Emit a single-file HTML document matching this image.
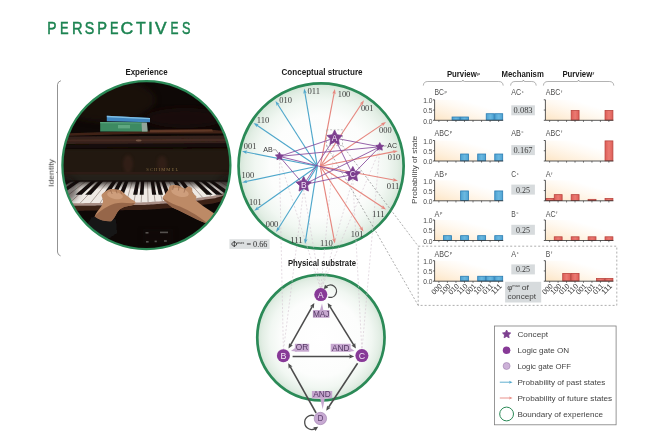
<!DOCTYPE html>
<html><head><meta charset="utf-8"><title>Perspectives</title>
<style>
html,body{margin:0;padding:0;background:#fff;}
body{width:665px;height:433px;overflow:hidden;font-family:"Liberation Sans",sans-serif;}
svg{display:block}
</style></head><body>
<svg width="665" height="433" viewBox="0 0 665 433">
<defs>
<radialGradient id="gcirc" cx="50%" cy="50%" r="50%">
 <stop offset="0" stop-color="#ffffff"/>
 <stop offset="0.62" stop-color="#fcfdfc"/>
 <stop offset="0.8" stop-color="#f1f7f2"/>
 <stop offset="0.92" stop-color="#e3eee5"/>
 <stop offset="1" stop-color="#d2e5d6"/>
</radialGradient>
<linearGradient id="gbar" x1="0" y1="1" x2="1" y2="0">
 <stop offset="0" stop-color="#fde5c4"/>
 <stop offset="0.22" stop-color="#feefdb"/>
 <stop offset="0.48" stop-color="#fff9f1"/>
 <stop offset="0.7" stop-color="#ffffff"/>
</linearGradient>
<linearGradient id="gblue" x1="0" y1="0" x2="1" y2="0">
 <stop offset="0" stop-color="#4da3d3"/><stop offset="0.5" stop-color="#6bb8e0"/><stop offset="1" stop-color="#4da3d3"/>
</linearGradient>
<linearGradient id="gred" x1="0" y1="0" x2="1" y2="0">
 <stop offset="0" stop-color="#df5d57"/><stop offset="0.5" stop-color="#ea7a72"/><stop offset="1" stop-color="#df5d57"/>
</linearGradient>
<clipPath id="pclip"><circle cx="146.4" cy="165.2" r="84"/></clipPath>
<filter id="b1" x="-20%" y="-20%" width="140%" height="140%"><feGaussianBlur stdDeviation="0.7"/></filter>
<filter id="b2" x="-20%" y="-20%" width="140%" height="140%"><feGaussianBlur stdDeviation="1.6"/></filter>
<filter id="b3" x="-20%" y="-20%" width="140%" height="140%"><feGaussianBlur stdDeviation="3"/></filter>
</defs>
<path d="M60.9,80.7 Q57.7,81.6 57.5,84.6 L57.5,252 Q57.7,255 60.6,255.9 M57.5,172.4 L56.0,172.4" fill="none" stroke="#777" stroke-width="0.8"/>
<g clip-path="url(#pclip)">
<rect x="60" y="80" width="175" height="172" fill="#120a07"/>
<rect x="60" y="78" width="176" height="176" fill="#0e0806"/>
<ellipse cx="105" cy="100" rx="50" ry="22" fill="#23150d" opacity="0.6" filter="url(#b3)"/>
<ellipse cx="185" cy="118" rx="40" ry="10" fill="#1c100a" opacity="0.8" filter="url(#b3)"/>
<g filter="url(#b1)">
<polygon points="62,133.6 150,130.6 212,129.8 224,131 224,133.4 150,133.4 62,136" fill="#3f2418"/>
<polygon points="150,129.8 212,129.2 213,131.6 150,132.2" fill="#6a3f2a" opacity="0.8"/>
<polygon points="62,136.6 230,135.4 230,143.4 62,144" fill="#35201a"/>
<polygon points="62,139.6 230,138.8 230,141 62,141.6" fill="#452a20"/>
<ellipse cx="138.7" cy="140.4" rx="3" ry="1" fill="#8a6a55" opacity="0.7"/>
<polygon points="62,144.2 230,143.6 230,147.6 62,148" fill="#150b08"/>
<polygon points="60,149 232,148.4 232,177 60,177" fill="#1f120c"/>
</g>
<ellipse cx="128" cy="164" rx="5" ry="9" fill="#3f271b" opacity="0.8" filter="url(#b2)"/>
<ellipse cx="162" cy="164" rx="5" ry="8" fill="#3f271b" opacity="0.75" filter="url(#b2)"/>
<rect x="62" y="150" width="170" height="24" fill="#2b1a12" opacity="0.45" filter="url(#b2)"/>
<rect x="62" y="172" width="170" height="4" fill="#2e1a12" filter="url(#b1)"/>
<g filter="url(#b1)">
<polygon points="100.2,122 146.8,122.6 147.4,131.6 100.2,131.4" fill="#3c8a62"/>
<polygon points="141.5,122.6 147,122.8 147.6,131.6 142,131.6" fill="#93a59a"/>
<polygon points="100.2,122 141.5,122.4 141.5,123.6 100.2,123.2" fill="#5aa57e"/>
<polygon points="106.8,115.8 150,118 150,122.2 106.8,121.2" fill="#3f86bf"/>
<polygon points="106.8,115.8 150,118 150,119.2 106.8,117.2" fill="#7fbde2"/>
</g>
<rect x="118" y="125" width="12" height="3.4" fill="#7fbf9c" opacity="0.55" filter="url(#b1)"/>
<text x="162.8" y="171" font-size="4.6" fill="#8d7447" text-anchor="middle" font-family='"Liberation Serif", serif' letter-spacing="1.1" opacity="0.9" filter="url(#b1)">SCHIMMEL</text>
<g filter="url(#b1)">
<polygon points="55.0,203.40 57.0,203.64 59.0,203.89 61.0,204.13 63.0,204.38 65.0,204.62 67.0,204.87 69.0,205.11 71.0,205.36 73.0,205.60 75.0,205.59 77.0,205.57 79.0,205.56 81.0,205.54 83.0,205.53 85.0,205.51 87.0,205.50 89.0,205.48 91.0,205.47 93.0,205.45 95.0,205.44 97.0,205.42 99.0,205.41 101.0,205.38 103.0,205.35 105.0,205.32 107.0,205.29 109.0,205.26 111.0,205.23 113.0,205.20 115.0,205.17 117.0,205.14 119.0,205.11 121.0,205.08 123.0,205.05 125.0,205.02 127.0,204.99 129.0,204.96 131.0,204.93 133.0,204.90 135.0,204.87 137.0,204.84 139.0,204.81 141.0,204.78 143.0,204.75 145.0,204.72 147.0,204.63 149.0,204.49 151.0,204.35 153.0,204.20 155.0,204.06 157.0,203.92 159.0,203.78 161.0,203.64 163.0,203.50 165.0,203.35 167.0,203.21 169.0,203.07 171.0,202.91 173.0,202.74 175.0,202.56 177.0,202.38 179.0,202.21 181.0,202.03 183.0,201.86 185.0,201.68 187.0,201.50 189.0,201.33 191.0,201.15 193.0,200.98 195.0,200.80 197.0,200.52 199.0,200.24 201.0,199.96 203.0,199.68 205.0,199.40 207.0,199.12 209.0,198.84 211.0,198.56 213.0,198.28 215.0,198.00 217.0,197.42 219.0,196.84 221.0,196.25 223.0,195.67 225.0,195.09 227.0,194.36 229.0,193.48 231.0,192.60 233.0,191.72 235.0,190.84 237.0,190.40 237.0,195.50 235.0,195.94 233.0,196.82 231.0,197.70 229.0,198.58 227.0,199.46 225.0,200.19 223.0,200.77 221.0,201.35 219.0,201.94 217.0,202.52 215.0,203.10 213.0,203.38 211.0,203.66 209.0,203.94 207.0,204.22 205.0,204.50 203.0,204.78 201.0,205.06 199.0,205.34 197.0,205.62 195.0,205.90 193.0,206.08 191.0,206.25 189.0,206.43 187.0,206.60 185.0,206.78 183.0,206.96 181.0,207.13 179.0,207.31 177.0,207.48 175.0,207.66 173.0,207.84 171.0,208.01 169.0,208.17 167.0,208.31 165.0,208.45 163.0,208.60 161.0,208.74 159.0,208.88 157.0,209.02 155.0,209.16 153.0,209.30 151.0,209.45 149.0,209.59 147.0,209.73 145.0,209.82 143.0,209.85 141.0,209.88 139.0,209.91 137.0,209.94 135.0,209.97 133.0,210.00 131.0,210.03 129.0,210.06 127.0,210.09 125.0,210.12 123.0,210.15 121.0,210.18 119.0,210.21 117.0,210.24 115.0,210.27 113.0,210.30 111.0,210.33 109.0,210.36 107.0,210.39 105.0,210.42 103.0,210.45 101.0,210.48 99.0,210.51 97.0,210.52 95.0,210.54 93.0,210.55 91.0,210.57 89.0,210.58 87.0,210.60 85.0,210.61 83.0,210.63 81.0,210.64 79.0,210.66 77.0,210.67 75.0,210.69 73.0,210.70 71.0,210.46 69.0,210.21 67.0,209.97 65.0,209.72 63.0,209.48 61.0,209.23 59.0,208.99 57.0,208.74 55.0,208.50" fill="#3e2218"/>
<polygon points="55.0,200.50 57.0,200.74 59.0,200.99 61.0,201.23 63.0,201.48 65.0,201.72 67.0,201.97 69.0,202.21 71.0,202.46 73.0,202.70 75.0,202.69 77.0,202.67 79.0,202.66 81.0,202.64 83.0,202.63 85.0,202.61 87.0,202.60 89.0,202.58 91.0,202.57 93.0,202.55 95.0,202.54 97.0,202.52 99.0,202.51 101.0,202.48 103.0,202.45 105.0,202.42 107.0,202.39 109.0,202.36 111.0,202.33 113.0,202.30 115.0,202.27 117.0,202.24 119.0,202.21 121.0,202.18 123.0,202.15 125.0,202.12 127.0,202.09 129.0,202.06 131.0,202.03 133.0,202.00 135.0,201.97 137.0,201.94 139.0,201.91 141.0,201.88 143.0,201.85 145.0,201.82 147.0,201.73 149.0,201.59 151.0,201.45 153.0,201.30 155.0,201.16 157.0,201.02 159.0,200.88 161.0,200.74 163.0,200.60 165.0,200.45 167.0,200.31 169.0,200.17 171.0,200.01 173.0,199.84 175.0,199.66 177.0,199.48 179.0,199.31 181.0,199.13 183.0,198.96 185.0,198.78 187.0,198.60 189.0,198.43 191.0,198.25 193.0,198.08 195.0,197.90 197.0,197.62 199.0,197.34 201.0,197.06 203.0,196.78 205.0,196.50 207.0,196.22 209.0,195.94 211.0,195.66 213.0,195.38 215.0,195.10 217.0,194.52 219.0,193.94 221.0,193.35 223.0,192.77 225.0,192.19 227.0,191.46 229.0,190.58 231.0,189.70 233.0,188.82 235.0,187.94 237.0,187.50 237.0,190.60 235.0,191.04 233.0,191.92 231.0,192.80 229.0,193.68 227.0,194.56 225.0,195.29 223.0,195.87 221.0,196.45 219.0,197.04 217.0,197.62 215.0,198.20 213.0,198.48 211.0,198.76 209.0,199.04 207.0,199.32 205.0,199.60 203.0,199.88 201.0,200.16 199.0,200.44 197.0,200.72 195.0,201.00 193.0,201.18 191.0,201.35 189.0,201.53 187.0,201.70 185.0,201.88 183.0,202.06 181.0,202.23 179.0,202.41 177.0,202.58 175.0,202.76 173.0,202.94 171.0,203.11 169.0,203.27 167.0,203.41 165.0,203.55 163.0,203.70 161.0,203.84 159.0,203.98 157.0,204.12 155.0,204.26 153.0,204.40 151.0,204.55 149.0,204.69 147.0,204.83 145.0,204.92 143.0,204.95 141.0,204.98 139.0,205.01 137.0,205.04 135.0,205.07 133.0,205.10 131.0,205.13 129.0,205.16 127.0,205.19 125.0,205.22 123.0,205.25 121.0,205.28 119.0,205.31 117.0,205.34 115.0,205.37 113.0,205.40 111.0,205.43 109.0,205.46 107.0,205.49 105.0,205.52 103.0,205.55 101.0,205.58 99.0,205.61 97.0,205.62 95.0,205.64 93.0,205.65 91.0,205.67 89.0,205.68 87.0,205.70 85.0,205.71 83.0,205.73 81.0,205.74 79.0,205.76 77.0,205.77 75.0,205.79 73.0,205.80 71.0,205.56 69.0,205.31 67.0,205.07 65.0,204.82 63.0,204.58 61.0,204.33 59.0,204.09 57.0,203.84 55.0,203.60" fill="#a88d84"/>
<polygon points="55.0,181.00 57.0,181.00 59.0,181.00 61.0,181.00 63.0,181.00 65.0,181.00 67.0,181.00 69.0,181.00 71.0,181.00 73.0,181.00 75.0,181.00 77.0,181.00 79.0,181.00 81.0,181.00 83.0,181.00 85.0,181.00 87.0,181.00 89.0,181.00 91.0,181.00 93.0,181.00 95.0,181.00 97.0,181.00 99.0,181.00 101.0,181.00 103.0,181.00 105.0,181.00 107.0,181.00 109.0,181.00 111.0,181.00 113.0,181.00 115.0,181.00 117.0,181.00 119.0,181.00 121.0,181.00 123.0,181.00 125.0,181.00 127.0,181.00 129.0,181.00 131.0,181.00 133.0,181.00 135.0,181.00 137.0,181.00 139.0,181.00 141.0,181.00 143.0,181.00 145.0,181.00 147.0,181.00 149.0,181.00 151.0,181.00 153.0,181.00 155.0,181.00 157.0,181.00 159.0,181.00 161.0,181.00 163.0,181.00 165.0,181.00 167.0,181.00 169.0,181.00 171.0,181.00 173.0,181.00 175.0,181.00 177.0,181.00 179.0,181.00 181.0,181.00 183.0,181.00 185.0,181.00 187.0,181.00 189.0,181.00 191.0,181.00 193.0,181.00 195.0,181.00 197.0,181.00 199.0,181.00 201.0,181.00 203.0,181.00 205.0,181.00 207.0,181.00 209.0,181.00 211.0,181.00 213.0,181.00 215.0,181.00 217.0,181.00 219.0,181.00 221.0,181.00 223.0,181.00 225.0,181.00 227.0,181.00 229.0,181.00 231.0,181.00 233.0,181.00 235.0,181.00 237.0,181.00 237.0,188.00 235.0,188.44 233.0,189.32 231.0,190.20 229.0,191.08 227.0,191.96 225.0,192.69 223.0,193.27 221.0,193.85 219.0,194.44 217.0,195.02 215.0,195.60 213.0,195.88 211.0,196.16 209.0,196.44 207.0,196.72 205.0,197.00 203.0,197.28 201.0,197.56 199.0,197.84 197.0,198.12 195.0,198.40 193.0,198.58 191.0,198.75 189.0,198.93 187.0,199.10 185.0,199.28 183.0,199.46 181.0,199.63 179.0,199.81 177.0,199.98 175.0,200.16 173.0,200.34 171.0,200.51 169.0,200.67 167.0,200.81 165.0,200.95 163.0,201.10 161.0,201.24 159.0,201.38 157.0,201.52 155.0,201.66 153.0,201.80 151.0,201.95 149.0,202.09 147.0,202.23 145.0,202.32 143.0,202.35 141.0,202.38 139.0,202.41 137.0,202.44 135.0,202.47 133.0,202.50 131.0,202.53 129.0,202.56 127.0,202.59 125.0,202.62 123.0,202.65 121.0,202.68 119.0,202.71 117.0,202.74 115.0,202.77 113.0,202.80 111.0,202.83 109.0,202.86 107.0,202.89 105.0,202.92 103.0,202.95 101.0,202.98 99.0,203.01 97.0,203.02 95.0,203.04 93.0,203.05 91.0,203.07 89.0,203.08 87.0,203.10 85.0,203.11 83.0,203.13 81.0,203.14 79.0,203.16 77.0,203.17 75.0,203.19 73.0,203.20 71.0,202.96 69.0,202.71 67.0,202.47 65.0,202.22 63.0,201.98 61.0,201.73 59.0,201.49 57.0,201.24 55.0,201.00" fill="#efe9e4"/>
</g>
<g filter="url(#b1)">
<line x1="142.66" y1="181" x2="141.13" y2="202.37" stroke="#6d5a52" stroke-width="0.5"/>
<line x1="137.67" y1="181" x2="133.87" y2="202.48" stroke="#6d5a52" stroke-width="0.5"/>
<line x1="132.41" y1="181" x2="126.16" y2="202.60" stroke="#6d5a52" stroke-width="0.5"/>
<line x1="126.84" y1="181" x2="117.99" y2="202.73" stroke="#6d5a52" stroke-width="0.5"/>
<line x1="120.96" y1="181" x2="109.32" y2="202.86" stroke="#6d5a52" stroke-width="0.5"/>
<line x1="114.75" y1="181" x2="100.12" y2="203.00" stroke="#6d5a52" stroke-width="0.5"/>
<line x1="108.17" y1="181" x2="90.41" y2="203.07" stroke="#6d5a52" stroke-width="0.5"/>
<line x1="101.23" y1="181" x2="80.13" y2="203.15" stroke="#6d5a52" stroke-width="0.5"/>
<line x1="93.88" y1="181" x2="69.71" y2="202.80" stroke="#6d5a52" stroke-width="0.5"/>
<line x1="86.12" y1="181" x2="59.88" y2="201.60" stroke="#6d5a52" stroke-width="0.5"/>
<line x1="77.92" y1="181" x2="48.95" y2="201.00" stroke="#6d5a52" stroke-width="0.5"/>
<line x1="69.25" y1="181" x2="36.59" y2="201.00" stroke="#6d5a52" stroke-width="0.5"/>
<line x1="60.08" y1="181" x2="23.52" y2="201.00" stroke="#6d5a52" stroke-width="0.5"/>
<line x1="50.40" y1="181" x2="9.71" y2="201.00" stroke="#6d5a52" stroke-width="0.5"/>
<line x1="147.45" y1="181" x2="148.10" y2="202.15" stroke="#6d5a52" stroke-width="0.5"/>
<line x1="152.32" y1="181" x2="155.10" y2="201.66" stroke="#6d5a52" stroke-width="0.5"/>
<line x1="157.47" y1="181" x2="162.38" y2="201.14" stroke="#6d5a52" stroke-width="0.5"/>
<line x1="162.91" y1="181" x2="169.97" y2="200.60" stroke="#6d5a52" stroke-width="0.5"/>
<line x1="168.67" y1="181" x2="177.79" y2="199.91" stroke="#6d5a52" stroke-width="0.5"/>
<line x1="174.75" y1="181" x2="185.89" y2="199.20" stroke="#6d5a52" stroke-width="0.5"/>
<line x1="181.18" y1="181" x2="194.25" y2="198.47" stroke="#6d5a52" stroke-width="0.5"/>
<line x1="187.98" y1="181" x2="202.57" y2="197.34" stroke="#6d5a52" stroke-width="0.5"/>
<line x1="195.16" y1="181" x2="211.02" y2="196.16" stroke="#6d5a52" stroke-width="0.5"/>
<line x1="202.75" y1="181" x2="219.14" y2="194.57" stroke="#6d5a52" stroke-width="0.5"/>
<line x1="210.78" y1="181" x2="226.95" y2="192.74" stroke="#6d5a52" stroke-width="0.5"/>
<line x1="219.26" y1="181" x2="233.31" y2="190.01" stroke="#6d5a52" stroke-width="0.5"/>
<line x1="228.22" y1="181" x2="240.47" y2="188.00" stroke="#6d5a52" stroke-width="0.5"/>
<line x1="237.70" y1="181" x2="251.36" y2="188.00" stroke="#6d5a52" stroke-width="0.5"/>
<polygon points="141.15,180.6 144.22,180.6 143.67,194.80 139.68,194.80" fill="#120c0a"/>
<polygon points="136.13,180.6 139.36,180.6 137.34,194.80 133.12,194.80" fill="#120c0a"/>
<polygon points="125.20,180.6 128.82,180.6 123.58,194.80 118.86,194.80" fill="#120c0a"/>
<polygon points="119.26,180.6 123.09,180.6 116.10,194.80 111.12,194.80" fill="#120c0a"/>
<polygon points="112.99,180.6 117.03,180.6 108.20,194.80 102.93,194.80" fill="#120c0a"/>
<polygon points="99.35,180.6 103.86,180.6 91.02,194.80 85.14,194.80" fill="#120c0a"/>
<polygon points="91.94,180.6 96.71,180.6 81.69,194.80 75.47,194.80" fill="#120c0a"/>
<polygon points="75.83,180.6 81.16,180.6 61.41,194.80 54.45,194.80" fill="#120c0a"/>
<polygon points="67.09,180.6 72.72,180.6 50.39,194.80 43.04,194.80" fill="#120c0a"/>
<polygon points="57.84,180.6 63.79,180.6 38.74,194.80 30.97,194.80" fill="#120c0a"/>
<polygon points="150.68,180.6 153.85,180.6 156.24,194.80 152.11,194.80" fill="#120c0a"/>
<polygon points="155.70,180.6 159.05,180.6 163.02,194.80 158.65,194.80" fill="#120c0a"/>
<polygon points="161.00,180.6 164.54,180.6 170.19,194.80 165.57,194.80" fill="#120c0a"/>
<polygon points="172.53,180.6 176.48,180.6 185.77,194.80 180.61,194.80" fill="#120c0a"/>
<polygon points="178.79,180.6 182.97,180.6 194.23,194.80 188.78,194.80" fill="#120c0a"/>
<polygon points="192.41,180.6 197.07,180.6 212.64,194.80 206.55,194.80" fill="#120c0a"/>
<polygon points="199.80,180.6 204.73,180.6 222.63,194.80 216.20,194.80" fill="#120c0a"/>
<polygon points="207.62,180.6 212.83,180.6 233.20,194.80 226.39,194.80" fill="#120c0a"/>
<polygon points="224.61,180.6 230.44,180.6 256.17,194.80 248.57,194.80" fill="#120c0a"/>
<polygon points="233.84,180.6 240.00,180.6 268.64,194.80 260.61,194.80" fill="#120c0a"/>
</g>
<rect x="60" y="174.5" width="174" height="7.2" fill="#27201d" opacity="0.95" filter="url(#b1)"/>
<defs><linearGradient id="kshade" x1="0" y1="0" x2="0" y2="1"><stop offset="0" stop-color="#100a08" stop-opacity="0.9"/><stop offset="0.45" stop-color="#100a08" stop-opacity="0.45"/><stop offset="1" stop-color="#100a08" stop-opacity="0"/></linearGradient></defs>
<rect x="60" y="180.4" width="174" height="9" fill="url(#kshade)"/>
<ellipse cx="62" cy="190" rx="16" ry="14" fill="#120a08" opacity="0.55" filter="url(#b3)"/>
<ellipse cx="232" cy="186" rx="14" ry="12" fill="#120a08" opacity="0.5" filter="url(#b3)"/>
<g filter="url(#b1)">
<polygon points="91.5,217.6 103,214.5 116,219.6 117,233 102,243 82,234" fill="#161517"/>
<path d="M107.8,190 C110,188.6 113,189 115.4,189.2 C117.6,189.4 119.4,189.6 121,190.8 C122.8,192 124,193 125,194.2 C127.4,196 130,198 132,199.8 C133.6,200.6 135.6,201.4 135.5,202.6 C135.4,204.2 133.6,205 132,205.3 C129.6,205.8 127.2,206.2 125,206.7 C123,207.4 121,208.2 119.5,209.5 C117.8,211.4 116.4,213.6 115.4,215.7 C114.4,217.6 113,219.6 111.2,221.2 C106,221.6 100,220.4 94.6,216.4 C95.4,214.6 96.4,213 97.4,211.5 C98.8,209.6 100.4,207.8 101.5,206 C102.6,204 103.2,201.8 103,199.8 C102.6,198.4 101.6,197 101.5,195.6 C101.6,194 103,193 104.3,192.2 C105.4,191.4 106.6,190.6 107.8,190 Z" fill="#bd8a66"/>
<path d="M94.6,216.4 C100,211 107,206 115,203.6 C121,202 128,203.6 135,203 C134,204.6 133,205 132,205.3 C129.6,205.8 127.2,206.2 125,206.7 C123,207.4 121,208.2 119.5,209.5 C117.8,211.4 116.4,213.6 115.4,215.7 C114.4,217.6 113,219.6 111.2,221.2 C106,221.6 100,220.4 94.6,216.4 Z" fill="#8c5c42" opacity="0.8"/>
<ellipse cx="115" cy="195.4" rx="8" ry="3.6" fill="#dcae8c" opacity="0.55" transform="rotate(12 115 195.4)"/>
<path d="M110.5,190 L112.2,194 M115.8,189.4 L117,193.4 M120.4,190.6 L121.6,194.2" stroke="#8c5c42" stroke-width="0.7" fill="none" opacity="0.8"/>
<path d="M162.5,197.8 C163,196.6 163.8,195.6 164.8,194.8 C166,193 167.2,191.2 168.5,189.5 C169,188 169.2,186.6 170,185.8 C171.6,184.8 173.6,184.8 175.3,185 C178.2,185.2 179,185.6 180.5,186.5 C182,187.2 183.6,188.2 185,188.8 C186,188 187,187 188,186.5 C189.4,186.4 190.8,187 191.8,188 C192.4,189.4 192.4,191 192.5,192.5 C193.6,193.8 195.2,195 196.3,196.3 C196.6,197.6 196,198.8 195.5,200 C197,201.4 198.6,202.6 200,203.8 C202.4,205.6 205,207.4 207.5,209 C209.8,210.6 212,212 214.3,213.5 L232,224 L214,233 C211,229.6 208.6,226.4 206,223.3 C203,222 200,220.8 197,219.5 C194,218 191,216.4 188,215 C185,213.6 182,212 179,210.5 C176.6,209.6 174.4,208.6 172.3,207.5 C170,206 168,204.2 166.3,202.3 C164.8,201 163,199.6 162.5,197.8 Z" fill="#bd8a66"/>
<path d="M162.5,197.8 C166,200.6 171,203.4 177,205.4 C186,208.6 197,214.6 208,223.6 L214,233 C211,229.6 208.6,226.4 206,223.3 C203,222 200,220.8 197,219.5 C194,218 191,216.4 188,215 C185,213.6 182,212 179,210.5 C176.6,209.6 174.4,208.6 172.3,207.5 C170,206 168,204.2 166.3,202.3 C164.8,201 163,199.6 162.5,197.8 Z" fill="#8c5c42" opacity="0.8"/>
<ellipse cx="180" cy="192.4" rx="9" ry="4.2" fill="#dcae8c" opacity="0.55" transform="rotate(14 180 192.4)"/>
<path d="M173.6,185.6 L172.6,190 M179,186.2 L178.4,190.6 M185,189 L184,192.6" stroke="#8c5c42" stroke-width="0.7" fill="none" opacity="0.8"/>
</g>
<rect x="143" y="229" width="30" height="14" fill="#18110e" opacity="0.3" filter="url(#b3)"/>
<rect x="146" y="241" width="2.6" height="1.6" fill="#9a9a96" opacity="0.5" filter="url(#b1)"/>
<rect x="154.6" y="240.6" width="2.2" height="1.6" fill="#9a9a96" opacity="0.5" filter="url(#b1)"/>
<rect x="164" y="240.2" width="2.8" height="1.6" fill="#9a9a96" opacity="0.5" filter="url(#b1)"/>
<rect x="145.5" y="232" width="3" height="1.6" fill="#9a9a96" opacity="0.5" filter="url(#b1)"/>
<rect x="160" y="231.6" width="8" height="1.6" fill="#9a9a96" opacity="0.5" filter="url(#b1)"/>
</g>
<circle cx="146.4" cy="165.2" r="84" fill="none" stroke="#2b8a57" stroke-width="2.3"/>
<circle cx="321.1" cy="166" r="82.55" fill="url(#gcirc)" stroke="#2b8a57" stroke-width="2.7"/>
<ellipse cx="320.9" cy="337.6" rx="63.65" ry="62.75" fill="url(#gcirc)" stroke="#2b8a57" stroke-width="2.7"/>

<line x1="279.40" y1="158.92" x2="320.80" y2="289.60" stroke="#d3c4d0" stroke-width="0.6" stroke-dasharray="2,1.8"/>
<line x1="279.40" y1="158.92" x2="283.40" y2="350.70" stroke="#d3c4d0" stroke-width="0.6" stroke-dasharray="2,1.8"/>
<line x1="334.60" y1="142.80" x2="320.80" y2="289.60" stroke="#d3c4d0" stroke-width="0.6" stroke-dasharray="2,1.8"/>
<line x1="303.70" y1="189.40" x2="283.40" y2="350.70" stroke="#d3c4d0" stroke-width="0.6" stroke-dasharray="2,1.8"/>
<line x1="352.80" y1="179.30" x2="361.90" y2="350.60" stroke="#d3c4d0" stroke-width="0.6" stroke-dasharray="2,1.8"/>
<line x1="379.80" y1="149.32" x2="320.80" y2="289.60" stroke="#d3c4d0" stroke-width="0.6" stroke-dasharray="2,1.8"/>
<line x1="379.80" y1="149.32" x2="361.90" y2="350.60" stroke="#d3c4d0" stroke-width="0.6" stroke-dasharray="2,1.8"/>
<line x1="303.70" y1="189.40" x2="320.80" y2="289.60" stroke="#d3c4d0" stroke-width="0.6" stroke-dasharray="2,1.8"/>
<line x1="352.80" y1="179.30" x2="320.80" y2="289.60" stroke="#d3c4d0" stroke-width="0.6" stroke-dasharray="2,1.8"/>
<line x1="342.50" y1="145.60" x2="418.20" y2="246.20" stroke="#777" stroke-width="0.6" stroke-dasharray="2,1.8"/>
<line x1="326.50" y1="145.60" x2="418.20" y2="305.40" stroke="#777" stroke-width="0.6" stroke-dasharray="2,1.8"/>
<line x1="317.30" y1="166.30" x2="304.86" y2="92.44" stroke="#4fa7cb" stroke-width="1.15"/>
<path d="M304.20,88.50 L306.76,93.14 L304.88,92.54 L303.30,93.72 Z" fill="#4fa7cb"/>
<line x1="317.30" y1="166.30" x2="277.65" y2="104.27" stroke="#4fa7cb" stroke-width="1.15"/>
<path d="M275.50,100.90 L279.67,104.17 L277.71,104.35 L276.72,106.06 Z" fill="#4fa7cb"/>
<line x1="317.30" y1="166.30" x2="256.91" y2="125.25" stroke="#4fa7cb" stroke-width="1.15"/>
<path d="M253.60,123.00 L258.72,124.36 L256.99,125.30 L256.75,127.26 Z" fill="#4fa7cb"/>
<line x1="317.30" y1="166.30" x2="245.92" y2="151.99" stroke="#4fa7cb" stroke-width="1.15"/>
<path d="M242.00,151.20 L247.25,150.47 L246.02,152.01 L246.56,153.90 Z" fill="#4fa7cb"/>
<line x1="317.30" y1="166.30" x2="246.01" y2="181.56" stroke="#4fa7cb" stroke-width="1.15"/>
<path d="M242.10,182.40 L246.62,179.64 L246.11,181.54 L247.36,183.06 Z" fill="#4fa7cb"/>
<line x1="317.30" y1="166.30" x2="257.47" y2="208.49" stroke="#4fa7cb" stroke-width="1.15"/>
<path d="M254.20,210.80 L257.28,206.49 L257.55,208.44 L259.29,209.35 Z" fill="#4fa7cb"/>
<line x1="317.30" y1="166.30" x2="278.22" y2="228.71" stroke="#4fa7cb" stroke-width="1.15"/>
<path d="M276.10,232.10 L277.27,226.93 L278.28,228.62 L280.24,228.79 Z" fill="#4fa7cb"/>
<line x1="317.30" y1="166.30" x2="305.63" y2="240.05" stroke="#4fa7cb" stroke-width="1.15"/>
<path d="M305.00,244.00 L304.05,238.79 L305.64,239.95 L307.51,239.34 Z" fill="#4fa7cb"/>
<line x1="320.30" y1="166.30" x2="334.16" y2="92.83" stroke="#e6877f" stroke-width="1.15"/>
<path d="M334.90,88.90 L335.69,94.14 L334.14,92.93 L332.25,93.49 Z" fill="#e6877f"/>
<line x1="320.30" y1="166.30" x2="361.79" y2="103.54" stroke="#e6877f" stroke-width="1.15"/>
<path d="M364.00,100.20 L362.70,105.34 L361.74,103.62 L359.78,103.41 Z" fill="#e6877f"/>
<line x1="320.30" y1="166.30" x2="382.69" y2="124.14" stroke="#e6877f" stroke-width="1.15"/>
<path d="M386.00,121.90 L382.84,126.15 L382.60,124.20 L380.88,123.25 Z" fill="#e6877f"/>
<line x1="320.30" y1="166.30" x2="393.98" y2="151.68" stroke="#e6877f" stroke-width="1.15"/>
<path d="M397.90,150.90 L393.34,153.59 L393.88,151.70 L392.65,150.16 Z" fill="#e6877f"/>
<line x1="320.30" y1="166.30" x2="393.97" y2="179.97" stroke="#e6877f" stroke-width="1.15"/>
<path d="M397.90,180.70 L392.66,181.51 L393.87,179.95 L393.30,178.07 Z" fill="#e6877f"/>
<line x1="320.30" y1="166.30" x2="382.66" y2="207.30" stroke="#e6877f" stroke-width="1.15"/>
<path d="M386.00,209.50 L380.86,208.22 L382.57,207.25 L382.78,205.29 Z" fill="#e6877f"/>
<line x1="320.30" y1="166.30" x2="361.29" y2="228.26" stroke="#e6877f" stroke-width="1.15"/>
<path d="M363.50,231.60 L359.28,228.40 L361.24,228.18 L362.20,226.46 Z" fill="#e6877f"/>
<line x1="320.30" y1="166.30" x2="334.16" y2="239.57" stroke="#e6877f" stroke-width="1.15"/>
<path d="M334.90,243.50 L332.25,238.91 L334.14,239.47 L335.69,238.26 Z" fill="#e6877f"/>
<line x1="279.4" y1="156.4" x2="334.6" y2="138.0" stroke="#85499b" stroke-width="0.95" opacity="0.9"/>
<line x1="279.4" y1="156.4" x2="379.8" y2="146.8" stroke="#85499b" stroke-width="0.95" opacity="0.9"/>
<line x1="279.4" y1="156.4" x2="352.8" y2="174.5" stroke="#85499b" stroke-width="0.95" opacity="0.9"/>
<line x1="279.4" y1="156.4" x2="303.7" y2="184.6" stroke="#85499b" stroke-width="0.95" opacity="0.9"/>
<line x1="334.6" y1="138.0" x2="379.8" y2="146.8" stroke="#85499b" stroke-width="0.95" opacity="0.9"/>
<line x1="334.6" y1="138.0" x2="352.8" y2="174.5" stroke="#85499b" stroke-width="0.95" opacity="0.9"/>
<line x1="334.6" y1="138.0" x2="303.7" y2="184.6" stroke="#85499b" stroke-width="0.95" opacity="0.9"/>
<line x1="379.8" y1="146.8" x2="352.8" y2="174.5" stroke="#85499b" stroke-width="0.95" opacity="0.9"/>
<line x1="379.8" y1="146.8" x2="303.7" y2="184.6" stroke="#85499b" stroke-width="0.95" opacity="0.9"/>
<line x1="352.8" y1="174.5" x2="303.7" y2="184.6" stroke="#85499b" stroke-width="0.95" opacity="0.9"/>
<rect x="326.5" y="129.8" width="16" height="15.8" fill="none" stroke="#9a9a9a" stroke-width="0.6" stroke-dasharray="2,1.6"/>
<polygon points="279.40,152.20 280.63,154.70 283.39,155.10 281.40,157.05 281.87,159.80 279.40,158.50 276.93,159.80 277.40,157.05 275.41,155.10 278.17,154.70" fill="#7c3f8f" stroke="#7c3f8f" stroke-width="0.8" stroke-linejoin="round"/>
<polygon points="334.60,130.00 336.95,134.76 342.21,135.53 338.40,139.24 339.30,144.47 334.60,142.00 329.90,144.47 330.80,139.24 326.99,135.53 332.25,134.76" fill="#7c3f8f" stroke="#7c3f8f" stroke-width="0.8" stroke-linejoin="round"/>
<polygon points="379.80,142.60 381.03,145.10 383.79,145.50 381.80,147.45 382.27,150.20 379.80,148.90 377.33,150.20 377.80,147.45 375.81,145.50 378.57,145.10" fill="#7c3f8f" stroke="#7c3f8f" stroke-width="0.8" stroke-linejoin="round"/>
<polygon points="352.80,166.50 355.15,171.26 360.41,172.03 356.60,175.74 357.50,180.97 352.80,178.50 348.10,180.97 349.00,175.74 345.19,172.03 350.45,171.26" fill="#7c3f8f" stroke="#7c3f8f" stroke-width="0.8" stroke-linejoin="round"/>
<polygon points="303.70,176.60 306.05,181.36 311.31,182.13 307.50,185.84 308.40,191.07 303.70,188.60 299.00,191.07 299.90,185.84 296.09,182.13 301.35,181.36" fill="#7c3f8f" stroke="#7c3f8f" stroke-width="0.8" stroke-linejoin="round"/>
<path d="M273,149.8 L276,149.8 L278,153.2" fill="none" stroke="#555" stroke-width="0.5"/>
<line x1="383.6" y1="146.2" x2="386.6" y2="145.8" stroke="#555" stroke-width="0.5"/>
<rect x="229.4" y="239.2" width="40.2" height="9.7" fill="#dcdfe0"/>
<!--SUBDASH-->
<line x1="312.33" y1="306.48" x2="290.47" y2="345.02" stroke="#4c4c4c" stroke-width="1.55"/>
<path d="M288.50,348.50 L289.05,343.07 L290.52,344.93 L292.88,345.24 Z" fill="#4c4c4c"/>
<path d="M314.30,303.00 L309.92,306.26 L312.28,306.57 L313.75,308.43 Z" fill="#4c4c4c"/>
<line x1="329.81" y1="306.40" x2="353.79" y2="345.10" stroke="#4c4c4c" stroke-width="1.55"/>
<path d="M355.90,348.50 L351.40,345.41 L353.74,345.02 L355.14,343.09 Z" fill="#4c4c4c"/>
<path d="M327.70,303.00 L328.46,308.41 L329.86,306.48 L332.20,306.09 Z" fill="#4c4c4c"/>
<line x1="292.60" y1="356.40" x2="350.20" y2="356.40" stroke="#4c4c4c" stroke-width="1.55"/>
<path d="M354.20,356.40 L349.20,358.60 L350.10,356.40 L349.20,354.20 Z" fill="#4c4c4c"/>
<line x1="357.60" y1="363.20" x2="328.40" y2="407.46" stroke="#4c4c4c" stroke-width="1.55"/>
<path d="M326.20,410.80 L327.12,405.41 L328.46,407.38 L330.79,407.84 Z" fill="#4c4c4c"/>
<line x1="316.10" y1="413.00" x2="290.16" y2="366.69" stroke="#4c4c4c" stroke-width="1.55"/>
<path d="M288.20,363.20 L292.56,366.49 L290.20,366.78 L288.72,368.64 Z" fill="#4c4c4c"/>
<path d="M328.28,297.06 A6.2,6.2 0 1 0 325.69,287.05" fill="none" stroke="#4c4c4c" stroke-width="1.3"/>
<path d="M323.63,289.34 L325.02,284.67 L328.14,287.48 Z" fill="#4c4c4c"/>
<path d="M314.23,415.73 A7.1,7.1 0 1 0 315.56,428.42" fill="none" stroke="#4c4c4c" stroke-width="1.3"/>
<path d="M318.17,426.79 L315.56,430.90 L313.33,427.34 Z" fill="#4c4c4c"/>
<rect x="312.9" y="310.0" width="16.6" height="7.8" fill="#c6a7cf"/>
<polygon points="320.0,310.2 322.0,303.4 323.4,310.2" fill="#c6a7cf"/>
<rect x="294.9" y="343.8" width="14.3" height="7.9" fill="#c6a7cf"/>
<polygon points="295.1,348 290.9,351.0 297,351.6" fill="#c6a7cf"/>
<rect x="330.7" y="343.8" width="19.9" height="8.0" fill="#c6a7cf"/>
<polygon points="350.4,348 354.6,351.0 348.6,351.7" fill="#c6a7cf"/>
<rect x="311.9" y="391.0" width="20.3" height="7.4" fill="#c6a7cf"/>
<polygon points="320.2,398.2 322.7,409.2 324.8,398.2" fill="#c6a7cf"/>
<circle cx="320.8" cy="294.6" r="6.9" fill="#f3e3f4" opacity="0.8"/>
<circle cx="320.8" cy="294.6" r="6.5" fill="#873a97"/>
<circle cx="283.4" cy="355.7" r="6.9" fill="#f3e3f4" opacity="0.8"/>
<circle cx="283.4" cy="355.7" r="6.5" fill="#873a97"/>
<circle cx="361.9" cy="355.6" r="6.9" fill="#f3e3f4" opacity="0.8"/>
<circle cx="361.9" cy="355.6" r="6.5" fill="#873a97"/>
<circle cx="320.4" cy="418.5" r="6.2" fill="#c7a9d2" stroke="#9a7aab" stroke-width="0.6"/>
<path d="M423.3,85.6 Q423.6,81.5 427.8,81.5 L461.29999999999995,81.5 Q462.9,81.5 462.9,80.0 Q462.9,81.5 464.5,81.5 L498.7,81.5 Q502.9,81.5 503.2,85.6" fill="none" stroke="#808080" stroke-width="0.6"/>
<path d="M510.6,85.6 Q510.90000000000003,81.5 515.1,81.5 L521.8000000000001,81.5 Q523.4000000000001,81.5 523.4000000000001,80.0 Q523.4000000000001,81.5 525.0000000000001,81.5 L531.7,81.5 Q535.9000000000001,81.5 536.2,85.6" fill="none" stroke="#808080" stroke-width="0.6"/>
<path d="M543.4,85.6 Q543.6999999999999,81.5 547.9,81.5 L576.9999999999999,81.5 Q578.5999999999999,81.5 578.5999999999999,80.0 Q578.5999999999999,81.5 580.1999999999999,81.5 L609.3,81.5 Q613.5,81.5 613.8,85.6" fill="none" stroke="#808080" stroke-width="0.6"/>
<rect x="511.3" y="105.30" width="23.6" height="10" fill="#d7dbdd"/>
<rect x="434.6" y="99.80" width="68.3" height="20.5" fill="url(#gbar)"/>
<rect x="452.07" y="117.01" width="7.94" height="3.09" fill="url(#gblue)" stroke="#2a7cb2" stroke-width="0.8"/>
<rect x="460.61" y="117.01" width="7.94" height="3.09" fill="url(#gblue)" stroke="#2a7cb2" stroke-width="0.8"/>
<rect x="486.23" y="113.73" width="7.94" height="6.37" fill="url(#gblue)" stroke="#2a7cb2" stroke-width="0.8"/>
<rect x="494.76" y="113.73" width="7.94" height="6.37" fill="url(#gblue)" stroke="#2a7cb2" stroke-width="0.8"/>
<path d="M433.0,99.80 L434.6,99.80 L434.6,120.30 L503.20000000000005,120.30" fill="none" stroke="#2e2e2e" stroke-width="0.8"/>
<line x1="433.0" y1="110.05" x2="434.6" y2="110.05" stroke="#2e2e2e" stroke-width="0.7"/>
<line x1="433.0" y1="120.30" x2="434.6" y2="120.30" stroke="#2e2e2e" stroke-width="0.8"/>
<line x1="438.87" y1="120.30" x2="438.87" y2="122.00" stroke="#2e2e2e" stroke-width="0.6"/>
<line x1="447.41" y1="120.30" x2="447.41" y2="122.00" stroke="#2e2e2e" stroke-width="0.6"/>
<line x1="455.94" y1="120.30" x2="455.94" y2="122.00" stroke="#2e2e2e" stroke-width="0.6"/>
<line x1="464.48" y1="120.30" x2="464.48" y2="122.00" stroke="#2e2e2e" stroke-width="0.6"/>
<line x1="473.02" y1="120.30" x2="473.02" y2="122.00" stroke="#2e2e2e" stroke-width="0.6"/>
<line x1="481.56" y1="120.30" x2="481.56" y2="122.00" stroke="#2e2e2e" stroke-width="0.6"/>
<line x1="490.09" y1="120.30" x2="490.09" y2="122.00" stroke="#2e2e2e" stroke-width="0.6"/>
<line x1="498.63" y1="120.30" x2="498.63" y2="122.00" stroke="#2e2e2e" stroke-width="0.6"/>
<rect x="545.4" y="99.80" width="67.7" height="20.5" fill="url(#gbar)"/>
<rect x="571.19" y="110.45" width="7.86" height="9.65" fill="url(#gred)" stroke="#b8443e" stroke-width="0.8"/>
<rect x="605.04" y="110.45" width="7.86" height="9.65" fill="url(#gred)" stroke="#b8443e" stroke-width="0.8"/>
<path d="M543.8,99.80 L545.4,99.80 L545.4,120.30 L613.4,120.30" fill="none" stroke="#2e2e2e" stroke-width="0.8"/>
<line x1="543.8" y1="110.05" x2="545.4" y2="110.05" stroke="#2e2e2e" stroke-width="0.7"/>
<line x1="543.8" y1="120.30" x2="545.4" y2="120.30" stroke="#2e2e2e" stroke-width="0.8"/>
<line x1="549.63" y1="120.30" x2="549.63" y2="122.00" stroke="#2e2e2e" stroke-width="0.6"/>
<line x1="558.09" y1="120.30" x2="558.09" y2="122.00" stroke="#2e2e2e" stroke-width="0.6"/>
<line x1="566.56" y1="120.30" x2="566.56" y2="122.00" stroke="#2e2e2e" stroke-width="0.6"/>
<line x1="575.02" y1="120.30" x2="575.02" y2="122.00" stroke="#2e2e2e" stroke-width="0.6"/>
<line x1="583.48" y1="120.30" x2="583.48" y2="122.00" stroke="#2e2e2e" stroke-width="0.6"/>
<line x1="591.94" y1="120.30" x2="591.94" y2="122.00" stroke="#2e2e2e" stroke-width="0.6"/>
<line x1="600.41" y1="120.30" x2="600.41" y2="122.00" stroke="#2e2e2e" stroke-width="0.6"/>
<line x1="608.87" y1="120.30" x2="608.87" y2="122.00" stroke="#2e2e2e" stroke-width="0.6"/>
<rect x="511.3" y="145.10" width="23.6" height="10" fill="#d7dbdd"/>
<rect x="434.6" y="140.50" width="68.3" height="20.5" fill="url(#gbar)"/>
<rect x="460.61" y="154.02" width="7.94" height="6.78" fill="url(#gblue)" stroke="#2a7cb2" stroke-width="0.8"/>
<rect x="477.69" y="154.02" width="7.94" height="6.78" fill="url(#gblue)" stroke="#2a7cb2" stroke-width="0.8"/>
<rect x="494.76" y="154.02" width="7.94" height="6.78" fill="url(#gblue)" stroke="#2a7cb2" stroke-width="0.8"/>
<path d="M433.0,140.50 L434.6,140.50 L434.6,161.00 L503.20000000000005,161.00" fill="none" stroke="#2e2e2e" stroke-width="0.8"/>
<line x1="433.0" y1="150.75" x2="434.6" y2="150.75" stroke="#2e2e2e" stroke-width="0.7"/>
<line x1="433.0" y1="161.00" x2="434.6" y2="161.00" stroke="#2e2e2e" stroke-width="0.8"/>
<line x1="438.87" y1="161.00" x2="438.87" y2="162.70" stroke="#2e2e2e" stroke-width="0.6"/>
<line x1="447.41" y1="161.00" x2="447.41" y2="162.70" stroke="#2e2e2e" stroke-width="0.6"/>
<line x1="455.94" y1="161.00" x2="455.94" y2="162.70" stroke="#2e2e2e" stroke-width="0.6"/>
<line x1="464.48" y1="161.00" x2="464.48" y2="162.70" stroke="#2e2e2e" stroke-width="0.6"/>
<line x1="473.02" y1="161.00" x2="473.02" y2="162.70" stroke="#2e2e2e" stroke-width="0.6"/>
<line x1="481.56" y1="161.00" x2="481.56" y2="162.70" stroke="#2e2e2e" stroke-width="0.6"/>
<line x1="490.09" y1="161.00" x2="490.09" y2="162.70" stroke="#2e2e2e" stroke-width="0.6"/>
<line x1="498.63" y1="161.00" x2="498.63" y2="162.70" stroke="#2e2e2e" stroke-width="0.6"/>
<rect x="545.4" y="140.50" width="67.7" height="20.5" fill="url(#gbar)"/>
<rect x="605.04" y="140.90" width="7.86" height="19.90" fill="url(#gred)" stroke="#b8443e" stroke-width="0.8"/>
<path d="M543.8,140.50 L545.4,140.50 L545.4,161.00 L613.4,161.00" fill="none" stroke="#2e2e2e" stroke-width="0.8"/>
<line x1="543.8" y1="150.75" x2="545.4" y2="150.75" stroke="#2e2e2e" stroke-width="0.7"/>
<line x1="543.8" y1="161.00" x2="545.4" y2="161.00" stroke="#2e2e2e" stroke-width="0.8"/>
<line x1="549.63" y1="161.00" x2="549.63" y2="162.70" stroke="#2e2e2e" stroke-width="0.6"/>
<line x1="558.09" y1="161.00" x2="558.09" y2="162.70" stroke="#2e2e2e" stroke-width="0.6"/>
<line x1="566.56" y1="161.00" x2="566.56" y2="162.70" stroke="#2e2e2e" stroke-width="0.6"/>
<line x1="575.02" y1="161.00" x2="575.02" y2="162.70" stroke="#2e2e2e" stroke-width="0.6"/>
<line x1="583.48" y1="161.00" x2="583.48" y2="162.70" stroke="#2e2e2e" stroke-width="0.6"/>
<line x1="591.94" y1="161.00" x2="591.94" y2="162.70" stroke="#2e2e2e" stroke-width="0.6"/>
<line x1="600.41" y1="161.00" x2="600.41" y2="162.70" stroke="#2e2e2e" stroke-width="0.6"/>
<line x1="608.87" y1="161.00" x2="608.87" y2="162.70" stroke="#2e2e2e" stroke-width="0.6"/>
<rect x="511.3" y="184.60" width="23.6" height="10" fill="#d7dbdd"/>
<rect x="434.6" y="180.30" width="68.3" height="20.5" fill="url(#gbar)"/>
<rect x="460.61" y="190.95" width="7.94" height="9.65" fill="url(#gblue)" stroke="#2a7cb2" stroke-width="0.8"/>
<rect x="494.76" y="190.95" width="7.94" height="9.65" fill="url(#gblue)" stroke="#2a7cb2" stroke-width="0.8"/>
<path d="M433.0,180.30 L434.6,180.30 L434.6,200.80 L503.20000000000005,200.80" fill="none" stroke="#2e2e2e" stroke-width="0.8"/>
<line x1="433.0" y1="190.55" x2="434.6" y2="190.55" stroke="#2e2e2e" stroke-width="0.7"/>
<line x1="433.0" y1="200.80" x2="434.6" y2="200.80" stroke="#2e2e2e" stroke-width="0.8"/>
<line x1="438.87" y1="200.80" x2="438.87" y2="202.50" stroke="#2e2e2e" stroke-width="0.6"/>
<line x1="447.41" y1="200.80" x2="447.41" y2="202.50" stroke="#2e2e2e" stroke-width="0.6"/>
<line x1="455.94" y1="200.80" x2="455.94" y2="202.50" stroke="#2e2e2e" stroke-width="0.6"/>
<line x1="464.48" y1="200.80" x2="464.48" y2="202.50" stroke="#2e2e2e" stroke-width="0.6"/>
<line x1="473.02" y1="200.80" x2="473.02" y2="202.50" stroke="#2e2e2e" stroke-width="0.6"/>
<line x1="481.56" y1="200.80" x2="481.56" y2="202.50" stroke="#2e2e2e" stroke-width="0.6"/>
<line x1="490.09" y1="200.80" x2="490.09" y2="202.50" stroke="#2e2e2e" stroke-width="0.6"/>
<line x1="498.63" y1="200.80" x2="498.63" y2="202.50" stroke="#2e2e2e" stroke-width="0.6"/>
<rect x="545.4" y="180.30" width="67.7" height="20.5" fill="url(#gbar)"/>
<rect x="545.80" y="198.54" width="7.86" height="2.06" fill="url(#gred)" stroke="#b8443e" stroke-width="0.8"/>
<rect x="554.26" y="194.64" width="7.86" height="5.96" fill="url(#gred)" stroke="#b8443e" stroke-width="0.8"/>
<rect x="571.19" y="194.64" width="7.86" height="5.96" fill="url(#gred)" stroke="#b8443e" stroke-width="0.8"/>
<rect x="588.11" y="199.36" width="7.86" height="1.25" fill="url(#gred)" stroke="#b8443e" stroke-width="0.8"/>
<rect x="605.04" y="198.54" width="7.86" height="2.06" fill="url(#gred)" stroke="#b8443e" stroke-width="0.8"/>
<path d="M543.8,180.30 L545.4,180.30 L545.4,200.80 L613.4,200.80" fill="none" stroke="#2e2e2e" stroke-width="0.8"/>
<line x1="543.8" y1="190.55" x2="545.4" y2="190.55" stroke="#2e2e2e" stroke-width="0.7"/>
<line x1="543.8" y1="200.80" x2="545.4" y2="200.80" stroke="#2e2e2e" stroke-width="0.8"/>
<line x1="549.63" y1="200.80" x2="549.63" y2="202.50" stroke="#2e2e2e" stroke-width="0.6"/>
<line x1="558.09" y1="200.80" x2="558.09" y2="202.50" stroke="#2e2e2e" stroke-width="0.6"/>
<line x1="566.56" y1="200.80" x2="566.56" y2="202.50" stroke="#2e2e2e" stroke-width="0.6"/>
<line x1="575.02" y1="200.80" x2="575.02" y2="202.50" stroke="#2e2e2e" stroke-width="0.6"/>
<line x1="583.48" y1="200.80" x2="583.48" y2="202.50" stroke="#2e2e2e" stroke-width="0.6"/>
<line x1="591.94" y1="200.80" x2="591.94" y2="202.50" stroke="#2e2e2e" stroke-width="0.6"/>
<line x1="600.41" y1="200.80" x2="600.41" y2="202.50" stroke="#2e2e2e" stroke-width="0.6"/>
<line x1="608.87" y1="200.80" x2="608.87" y2="202.50" stroke="#2e2e2e" stroke-width="0.6"/>
<rect x="511.3" y="224.80" width="23.6" height="10" fill="#d7dbdd"/>
<rect x="434.6" y="220.00" width="68.3" height="20.5" fill="url(#gbar)"/>
<rect x="443.54" y="235.67" width="7.94" height="4.63" fill="url(#gblue)" stroke="#2a7cb2" stroke-width="0.8"/>
<rect x="460.61" y="235.67" width="7.94" height="4.63" fill="url(#gblue)" stroke="#2a7cb2" stroke-width="0.8"/>
<rect x="477.69" y="235.67" width="7.94" height="4.63" fill="url(#gblue)" stroke="#2a7cb2" stroke-width="0.8"/>
<rect x="494.76" y="235.67" width="7.94" height="4.63" fill="url(#gblue)" stroke="#2a7cb2" stroke-width="0.8"/>
<path d="M433.0,220.00 L434.6,220.00 L434.6,240.50 L503.20000000000005,240.50" fill="none" stroke="#2e2e2e" stroke-width="0.8"/>
<line x1="433.0" y1="230.25" x2="434.6" y2="230.25" stroke="#2e2e2e" stroke-width="0.7"/>
<line x1="433.0" y1="240.50" x2="434.6" y2="240.50" stroke="#2e2e2e" stroke-width="0.8"/>
<line x1="438.87" y1="240.50" x2="438.87" y2="242.20" stroke="#2e2e2e" stroke-width="0.6"/>
<line x1="447.41" y1="240.50" x2="447.41" y2="242.20" stroke="#2e2e2e" stroke-width="0.6"/>
<line x1="455.94" y1="240.50" x2="455.94" y2="242.20" stroke="#2e2e2e" stroke-width="0.6"/>
<line x1="464.48" y1="240.50" x2="464.48" y2="242.20" stroke="#2e2e2e" stroke-width="0.6"/>
<line x1="473.02" y1="240.50" x2="473.02" y2="242.20" stroke="#2e2e2e" stroke-width="0.6"/>
<line x1="481.56" y1="240.50" x2="481.56" y2="242.20" stroke="#2e2e2e" stroke-width="0.6"/>
<line x1="490.09" y1="240.50" x2="490.09" y2="242.20" stroke="#2e2e2e" stroke-width="0.6"/>
<line x1="498.63" y1="240.50" x2="498.63" y2="242.20" stroke="#2e2e2e" stroke-width="0.6"/>
<rect x="545.4" y="220.00" width="67.7" height="20.5" fill="url(#gbar)"/>
<rect x="554.26" y="236.80" width="7.86" height="3.50" fill="url(#gred)" stroke="#b8443e" stroke-width="0.8"/>
<rect x="571.19" y="236.80" width="7.86" height="3.50" fill="url(#gred)" stroke="#b8443e" stroke-width="0.8"/>
<rect x="588.11" y="236.80" width="7.86" height="3.50" fill="url(#gred)" stroke="#b8443e" stroke-width="0.8"/>
<rect x="605.04" y="236.80" width="7.86" height="3.50" fill="url(#gred)" stroke="#b8443e" stroke-width="0.8"/>
<path d="M543.8,220.00 L545.4,220.00 L545.4,240.50 L613.4,240.50" fill="none" stroke="#2e2e2e" stroke-width="0.8"/>
<line x1="543.8" y1="230.25" x2="545.4" y2="230.25" stroke="#2e2e2e" stroke-width="0.7"/>
<line x1="543.8" y1="240.50" x2="545.4" y2="240.50" stroke="#2e2e2e" stroke-width="0.8"/>
<line x1="549.63" y1="240.50" x2="549.63" y2="242.20" stroke="#2e2e2e" stroke-width="0.6"/>
<line x1="558.09" y1="240.50" x2="558.09" y2="242.20" stroke="#2e2e2e" stroke-width="0.6"/>
<line x1="566.56" y1="240.50" x2="566.56" y2="242.20" stroke="#2e2e2e" stroke-width="0.6"/>
<line x1="575.02" y1="240.50" x2="575.02" y2="242.20" stroke="#2e2e2e" stroke-width="0.6"/>
<line x1="583.48" y1="240.50" x2="583.48" y2="242.20" stroke="#2e2e2e" stroke-width="0.6"/>
<line x1="591.94" y1="240.50" x2="591.94" y2="242.20" stroke="#2e2e2e" stroke-width="0.6"/>
<line x1="600.41" y1="240.50" x2="600.41" y2="242.20" stroke="#2e2e2e" stroke-width="0.6"/>
<line x1="608.87" y1="240.50" x2="608.87" y2="242.20" stroke="#2e2e2e" stroke-width="0.6"/>
<rect x="511.3" y="264.40" width="23.6" height="10" fill="#d7dbdd"/>
<rect x="434.6" y="260.70" width="68.3" height="20.5" fill="url(#gbar)"/>
<rect x="460.61" y="276.27" width="7.94" height="4.73" fill="url(#gblue)" stroke="#2a7cb2" stroke-width="0.8"/>
<rect x="477.69" y="276.27" width="7.94" height="4.73" fill="url(#gblue)" stroke="#2a7cb2" stroke-width="0.8"/>
<rect x="486.23" y="276.27" width="7.94" height="4.73" fill="url(#gblue)" stroke="#2a7cb2" stroke-width="0.8"/>
<rect x="494.76" y="276.27" width="7.94" height="4.73" fill="url(#gblue)" stroke="#2a7cb2" stroke-width="0.8"/>
<path d="M433.0,260.70 L434.6,260.70 L434.6,281.20 L503.20000000000005,281.20" fill="none" stroke="#2e2e2e" stroke-width="0.8"/>
<line x1="433.0" y1="270.95" x2="434.6" y2="270.95" stroke="#2e2e2e" stroke-width="0.7"/>
<line x1="433.0" y1="281.20" x2="434.6" y2="281.20" stroke="#2e2e2e" stroke-width="0.8"/>
<line x1="438.87" y1="281.20" x2="438.87" y2="282.90" stroke="#2e2e2e" stroke-width="0.6"/>
<line x1="447.41" y1="281.20" x2="447.41" y2="282.90" stroke="#2e2e2e" stroke-width="0.6"/>
<line x1="455.94" y1="281.20" x2="455.94" y2="282.90" stroke="#2e2e2e" stroke-width="0.6"/>
<line x1="464.48" y1="281.20" x2="464.48" y2="282.90" stroke="#2e2e2e" stroke-width="0.6"/>
<line x1="473.02" y1="281.20" x2="473.02" y2="282.90" stroke="#2e2e2e" stroke-width="0.6"/>
<line x1="481.56" y1="281.20" x2="481.56" y2="282.90" stroke="#2e2e2e" stroke-width="0.6"/>
<line x1="490.09" y1="281.20" x2="490.09" y2="282.90" stroke="#2e2e2e" stroke-width="0.6"/>
<line x1="498.63" y1="281.20" x2="498.63" y2="282.90" stroke="#2e2e2e" stroke-width="0.6"/>
<rect x="545.4" y="260.70" width="67.7" height="20.5" fill="url(#gbar)"/>
<rect x="562.72" y="273.40" width="7.86" height="7.60" fill="url(#gred)" stroke="#b8443e" stroke-width="0.8"/>
<rect x="571.19" y="273.40" width="7.86" height="7.60" fill="url(#gred)" stroke="#b8443e" stroke-width="0.8"/>
<rect x="596.57" y="278.52" width="7.86" height="2.47" fill="url(#gred)" stroke="#b8443e" stroke-width="0.8"/>
<rect x="605.04" y="278.52" width="7.86" height="2.47" fill="url(#gred)" stroke="#b8443e" stroke-width="0.8"/>
<path d="M543.8,260.70 L545.4,260.70 L545.4,281.20 L613.4,281.20" fill="none" stroke="#2e2e2e" stroke-width="0.8"/>
<line x1="543.8" y1="270.95" x2="545.4" y2="270.95" stroke="#2e2e2e" stroke-width="0.7"/>
<line x1="543.8" y1="281.20" x2="545.4" y2="281.20" stroke="#2e2e2e" stroke-width="0.8"/>
<line x1="549.63" y1="281.20" x2="549.63" y2="282.90" stroke="#2e2e2e" stroke-width="0.6"/>
<line x1="558.09" y1="281.20" x2="558.09" y2="282.90" stroke="#2e2e2e" stroke-width="0.6"/>
<line x1="566.56" y1="281.20" x2="566.56" y2="282.90" stroke="#2e2e2e" stroke-width="0.6"/>
<line x1="575.02" y1="281.20" x2="575.02" y2="282.90" stroke="#2e2e2e" stroke-width="0.6"/>
<line x1="583.48" y1="281.20" x2="583.48" y2="282.90" stroke="#2e2e2e" stroke-width="0.6"/>
<line x1="591.94" y1="281.20" x2="591.94" y2="282.90" stroke="#2e2e2e" stroke-width="0.6"/>
<line x1="600.41" y1="281.20" x2="600.41" y2="282.90" stroke="#2e2e2e" stroke-width="0.6"/>
<line x1="608.87" y1="281.20" x2="608.87" y2="282.90" stroke="#2e2e2e" stroke-width="0.6"/>
<rect x="418.2" y="246.2" width="198.6" height="59.2" fill="none" stroke="#8c8c8c" stroke-width="0.7" stroke-dasharray="2,2"/>
<rect x="505.1" y="281.8" width="36.1" height="20.7" fill="#d7dbdd"/>
<rect x="494.4" y="326" width="121.7" height="98.8" fill="#fff" stroke="#7d7d7d" stroke-width="0.8"/>
<polygon points="506.60,330.00 507.86,332.56 510.69,332.97 508.64,334.96 509.13,337.78 506.60,336.45 504.07,337.78 504.56,334.96 502.51,332.97 505.34,332.56" fill="#7c3f8f" stroke="#7c3f8f" stroke-width="0.8" stroke-linejoin="round"/>
<circle cx="506.6" cy="350.3" r="3.8" fill="#873a97"/>
<circle cx="506.6" cy="366" r="3.5" fill="#cdb2d8" stroke="#9a7aab" stroke-width="0.6"/>
<line x1="499.80" y1="382.20" x2="510.00" y2="382.20" stroke="#4fa7cb" stroke-width="0.9"/>
<path d="M512.60,382.20 L509.00,383.70 L509.90,382.20 L509.00,380.70 Z" fill="#4fa7cb"/>
<line x1="499.80" y1="398.00" x2="510.00" y2="398.00" stroke="#e6877f" stroke-width="0.9"/>
<path d="M512.60,398.00 L509.00,399.50 L509.90,398.00 L509.00,396.50 Z" fill="#e6877f"/>
<circle cx="506.6" cy="414" r="6.9" fill="#fff" stroke="#2b8a57" stroke-width="1.0"/>
<g opacity="0.999"><text transform="translate(47.16,33.95) scale(0.799,1)" font-size="17.4" fill="#1c8351" stroke="#1c8351" stroke-width="0.5" font-family='"Liberation Sans", sans-serif'>P</text>
<text transform="translate(60.04,33.95) scale(0.742,1)" font-size="17.4" fill="#1c8351" stroke="#1c8351" stroke-width="0.5" font-family='"Liberation Sans", sans-serif'>E</text>
<text transform="translate(72.00,33.95) scale(0.842,1)" font-size="17.4" fill="#1c8351" stroke="#1c8351" stroke-width="0.5" font-family='"Liberation Sans", sans-serif'>R</text>
<text transform="translate(84.85,33.95) scale(0.819,1)" font-size="17.4" fill="#1c8351" stroke="#1c8351" stroke-width="0.5" font-family='"Liberation Sans", sans-serif'>S</text>
<text transform="translate(97.30,33.95) scale(0.842,1)" font-size="17.4" fill="#1c8351" stroke="#1c8351" stroke-width="0.5" font-family='"Liberation Sans", sans-serif'>P</text>
<text transform="translate(109.96,33.95) scale(0.732,1)" font-size="17.4" fill="#1c8351" stroke="#1c8351" stroke-width="0.5" font-family='"Liberation Sans", sans-serif'>E</text>
<text transform="translate(120.60,33.95) scale(1.016,1)" font-size="17.4" fill="#1c8351" stroke="#1c8351" stroke-width="0.5" font-family='"Liberation Sans", sans-serif'>C</text>
<text transform="translate(135.94,33.95) scale(0.915,1)" font-size="17.4" fill="#1c8351" stroke="#1c8351" stroke-width="0.5" font-family='"Liberation Sans", sans-serif'>T</text>
<text transform="translate(148.09,33.95) scale(1.000,1)" font-size="17.4" fill="#1c8351" stroke="#1c8351" stroke-width="0.5" font-family='"Liberation Sans", sans-serif'>I</text>
<text transform="translate(154.92,33.95) scale(0.995,1)" font-size="17.4" fill="#1c8351" stroke="#1c8351" stroke-width="0.5" font-family='"Liberation Sans", sans-serif'>V</text>
<text transform="translate(170.62,33.95) scale(0.689,1)" font-size="17.4" fill="#1c8351" stroke="#1c8351" stroke-width="0.5" font-family='"Liberation Sans", sans-serif'>E</text>
<text transform="translate(182.02,33.95) scale(0.729,1)" font-size="17.4" fill="#1c8351" stroke="#1c8351" stroke-width="0.5" font-family='"Liberation Sans", sans-serif'>S</text>
<text x="125.40" y="74.50" font-size="8.3" fill="#1a1a1a" text-anchor="start" font-weight="bold" font-family='"Liberation Sans", sans-serif'  textLength="42.2" lengthAdjust="spacingAndGlyphs">Experience</text>
<text x="281.50" y="74.60" font-size="8.3" fill="#1a1a1a" text-anchor="start" font-weight="bold" font-family='"Liberation Sans", sans-serif'  textLength="81.1" lengthAdjust="spacingAndGlyphs">Conceptual structure</text>
<text x="287.90" y="265.60" font-size="8.3" fill="#1a1a1a" text-anchor="start" font-weight="bold" font-family='"Liberation Sans", sans-serif'  textLength="68.1" lengthAdjust="spacingAndGlyphs">Physical substrate</text>
<text transform="translate(53.7,172.9) rotate(-90)" font-size="8" fill="#3c3c3c" text-anchor="middle" textLength="27.8" lengthAdjust="spacingAndGlyphs" font-family='"Liberation Sans", sans-serif'>Identity</text>
<text x="334.60" y="140.90" font-size="8.4" fill="#f1e4f5" text-anchor="middle" font-weight="normal" font-family='"Liberation Sans", sans-serif' >A</text>
<text x="352.80" y="177.40" font-size="8.4" fill="#f1e4f5" text-anchor="middle" font-weight="normal" font-family='"Liberation Sans", sans-serif' >C</text>
<text x="303.70" y="187.50" font-size="8.4" fill="#f1e4f5" text-anchor="middle" font-weight="normal" font-family='"Liberation Sans", sans-serif' >B</text>
<text x="307.50" y="93.60" font-size="8.2" fill="#3c3c3c" text-anchor="start" font-weight="normal" font-family='"Liberation Serif", serif'  textLength="12.6" lengthAdjust="spacingAndGlyphs">011</text>
<text x="279.30" y="102.80" font-size="8.2" fill="#3c3c3c" text-anchor="start" font-weight="normal" font-family='"Liberation Serif", serif'  textLength="12.6" lengthAdjust="spacingAndGlyphs">010</text>
<text x="256.80" y="122.70" font-size="8.2" fill="#3c3c3c" text-anchor="start" font-weight="normal" font-family='"Liberation Serif", serif'  textLength="12.6" lengthAdjust="spacingAndGlyphs">110</text>
<text x="243.80" y="148.80" font-size="8.2" fill="#3c3c3c" text-anchor="start" font-weight="normal" font-family='"Liberation Serif", serif'  textLength="12.6" lengthAdjust="spacingAndGlyphs">001</text>
<text x="241.60" y="178.10" font-size="8.2" fill="#3c3c3c" text-anchor="start" font-weight="normal" font-family='"Liberation Serif", serif'  textLength="12.6" lengthAdjust="spacingAndGlyphs">100</text>
<text x="249.00" y="204.80" font-size="8.2" fill="#3c3c3c" text-anchor="start" font-weight="normal" font-family='"Liberation Serif", serif'  textLength="12.6" lengthAdjust="spacingAndGlyphs">101</text>
<text x="265.70" y="227.40" font-size="8.2" fill="#3c3c3c" text-anchor="start" font-weight="normal" font-family='"Liberation Serif", serif'  textLength="12.6" lengthAdjust="spacingAndGlyphs">000</text>
<text x="290.20" y="242.60" font-size="8.2" fill="#3c3c3c" text-anchor="start" font-weight="normal" font-family='"Liberation Serif", serif'  textLength="12.6" lengthAdjust="spacingAndGlyphs">111</text>
<text x="337.70" y="96.60" font-size="8.2" fill="#3c3c3c" text-anchor="start" font-weight="normal" font-family='"Liberation Serif", serif'  textLength="12.6" lengthAdjust="spacingAndGlyphs">100</text>
<text x="360.90" y="111.10" font-size="8.2" fill="#3c3c3c" text-anchor="start" font-weight="normal" font-family='"Liberation Serif", serif'  textLength="12.6" lengthAdjust="spacingAndGlyphs">001</text>
<text x="379.00" y="133.20" font-size="8.2" fill="#3c3c3c" text-anchor="start" font-weight="normal" font-family='"Liberation Serif", serif'  textLength="12.6" lengthAdjust="spacingAndGlyphs">000</text>
<text x="387.70" y="159.70" font-size="8.2" fill="#3c3c3c" text-anchor="start" font-weight="normal" font-family='"Liberation Serif", serif'  textLength="12.6" lengthAdjust="spacingAndGlyphs">010</text>
<text x="386.80" y="189.30" font-size="8.2" fill="#3c3c3c" text-anchor="start" font-weight="normal" font-family='"Liberation Serif", serif'  textLength="12.6" lengthAdjust="spacingAndGlyphs">011</text>
<text x="372.10" y="216.80" font-size="8.2" fill="#3c3c3c" text-anchor="start" font-weight="normal" font-family='"Liberation Serif", serif'  textLength="12.6" lengthAdjust="spacingAndGlyphs">111</text>
<text x="350.80" y="236.70" font-size="8.2" fill="#3c3c3c" text-anchor="start" font-weight="normal" font-family='"Liberation Serif", serif'  textLength="12.6" lengthAdjust="spacingAndGlyphs">101</text>
<text x="320.10" y="245.50" font-size="8.2" fill="#3c3c3c" text-anchor="start" font-weight="normal" font-family='"Liberation Serif", serif'  textLength="12.6" lengthAdjust="spacingAndGlyphs">110</text>
<text x="263.20" y="152.20" font-size="7.8" fill="#3a3a3a" text-anchor="start" font-weight="normal" font-family='"Liberation Sans", sans-serif'  textLength="9.5" lengthAdjust="spacingAndGlyphs">AB</text>
<text x="387.20" y="148.30" font-size="7.8" fill="#3a3a3a" text-anchor="start" font-weight="normal" font-family='"Liberation Sans", sans-serif'  textLength="9.8" lengthAdjust="spacingAndGlyphs">AC</text>
<text x="231.20" y="247.20" font-size="8.2" fill="#2a2a2a" text-anchor="start" font-weight="normal" font-family='"Liberation Serif", serif' >Φ<tspan font-size="4.2" dy="-2.8">max</tspan><tspan dy="2.8"> = 0.66</tspan></text>
<text x="321.20" y="316.55" font-size="8.3" fill="#553a64" text-anchor="middle" font-weight="normal" font-family='"Liberation Sans", sans-serif' >MAJ</text>
<text x="302.05" y="350.45" font-size="8.3" fill="#553a64" text-anchor="middle" font-weight="normal" font-family='"Liberation Sans", sans-serif' >OR</text>
<text x="340.65" y="350.55" font-size="8.3" fill="#553a64" text-anchor="middle" font-weight="normal" font-family='"Liberation Sans", sans-serif' >AND</text>
<text x="322.05" y="397.15" font-size="8.3" fill="#553a64" text-anchor="middle" font-weight="normal" font-family='"Liberation Sans", sans-serif' >AND</text>
<text x="320.80" y="297.70" font-size="8.8" fill="#f4e8f6" text-anchor="middle" font-weight="normal" font-family='"Liberation Sans", sans-serif' >A</text>
<text x="283.40" y="358.80" font-size="8.8" fill="#f4e8f6" text-anchor="middle" font-weight="normal" font-family='"Liberation Sans", sans-serif' >B</text>
<text x="361.90" y="358.70" font-size="8.8" fill="#f4e8f6" text-anchor="middle" font-weight="normal" font-family='"Liberation Sans", sans-serif' >C</text>
<text x="320.40" y="421.40" font-size="8.2" fill="#5d3f6e" text-anchor="middle" font-weight="normal" font-family='"Liberation Sans", sans-serif' >D</text>
<text x="446.90" y="77.20" font-size="8.3" fill="#1a1a1a" text-anchor="start" font-weight="bold" font-family='"Liberation Sans", sans-serif'  textLength="29.8" lengthAdjust="spacingAndGlyphs">Purview</text>
<text x="477.30" y="74.80" font-size="4.2" fill="#1a1a1a" text-anchor="start" font-weight="bold" font-family='"Liberation Sans", sans-serif' >p</text>
<text x="501.60" y="77.20" font-size="8.3" fill="#1a1a1a" text-anchor="start" font-weight="bold" font-family='"Liberation Sans", sans-serif'  textLength="42.2" lengthAdjust="spacingAndGlyphs">Mechanism</text>
<text x="562.40" y="77.20" font-size="8.3" fill="#1a1a1a" text-anchor="start" font-weight="bold" font-family='"Liberation Sans", sans-serif'  textLength="29.8" lengthAdjust="spacingAndGlyphs">Purview</text>
<text x="592.60" y="74.60" font-size="4.2" fill="#1a1a1a" text-anchor="start" font-weight="bold" font-family='"Liberation Sans", sans-serif' font-style="italic">f</text>
<text x="434.50" y="95.10" font-size="8.4" fill="#505050" text-anchor="start" font-weight="normal" font-family='"Liberation Sans", sans-serif'  textLength="9.4" lengthAdjust="spacingAndGlyphs">BC</text>
<text x="444.50" y="92.70" font-size="4.2" fill="#505050" text-anchor="start" font-weight="normal" font-family='"Liberation Sans", sans-serif' >p</text>
<text x="511.30" y="95.10" font-size="8.4" fill="#505050" text-anchor="start" font-weight="normal" font-family='"Liberation Sans", sans-serif'  textLength="9.9" lengthAdjust="spacingAndGlyphs">AC</text>
<text x="521.80" y="92.70" font-size="4.2" fill="#505050" text-anchor="start" font-weight="normal" font-family='"Liberation Sans", sans-serif' >c</text>
<text x="545.80" y="95.10" font-size="8.4" fill="#505050" text-anchor="start" font-weight="normal" font-family='"Liberation Sans", sans-serif'  textLength="14.6" lengthAdjust="spacingAndGlyphs">ABC</text>
<text x="561.00" y="92.70" font-size="4.2" fill="#505050" text-anchor="start" font-weight="normal" font-family='"Liberation Sans", sans-serif' >f</text>
<text x="513.60" y="113.20" font-size="7.6" fill="#3a3a3a" text-anchor="start" font-weight="normal" font-family='"Liberation Serif", serif'  textLength="19" lengthAdjust="spacingAndGlyphs">0.083</text>
<text x="423.20" y="103.00" font-size="7.3" fill="#484848" text-anchor="start" font-weight="normal" font-family='"Liberation Sans", sans-serif'  textLength="9.3" lengthAdjust="spacingAndGlyphs">1.0</text>
<text x="423.20" y="113.25" font-size="7.3" fill="#484848" text-anchor="start" font-weight="normal" font-family='"Liberation Sans", sans-serif'  textLength="9.3" lengthAdjust="spacingAndGlyphs">0.5</text>
<text x="423.20" y="123.50" font-size="7.3" fill="#484848" text-anchor="start" font-weight="normal" font-family='"Liberation Sans", sans-serif'  textLength="9.3" lengthAdjust="spacingAndGlyphs">0.0</text>
<text x="434.50" y="135.80" font-size="8.4" fill="#505050" text-anchor="start" font-weight="normal" font-family='"Liberation Sans", sans-serif'  textLength="14.6" lengthAdjust="spacingAndGlyphs">ABC</text>
<text x="449.70" y="133.40" font-size="4.2" fill="#505050" text-anchor="start" font-weight="normal" font-family='"Liberation Sans", sans-serif' >p</text>
<text x="511.30" y="135.80" font-size="8.4" fill="#505050" text-anchor="start" font-weight="normal" font-family='"Liberation Sans", sans-serif'  textLength="9.6" lengthAdjust="spacingAndGlyphs">AB</text>
<text x="521.50" y="133.40" font-size="4.2" fill="#505050" text-anchor="start" font-weight="normal" font-family='"Liberation Sans", sans-serif' >c</text>
<text x="545.80" y="135.80" font-size="8.4" fill="#505050" text-anchor="start" font-weight="normal" font-family='"Liberation Sans", sans-serif'  textLength="14.6" lengthAdjust="spacingAndGlyphs">ABC</text>
<text x="561.00" y="133.40" font-size="4.2" fill="#505050" text-anchor="start" font-weight="normal" font-family='"Liberation Sans", sans-serif' >f</text>
<text x="513.60" y="153.00" font-size="7.6" fill="#3a3a3a" text-anchor="start" font-weight="normal" font-family='"Liberation Serif", serif'  textLength="19" lengthAdjust="spacingAndGlyphs">0.167</text>
<text x="423.20" y="143.70" font-size="7.3" fill="#484848" text-anchor="start" font-weight="normal" font-family='"Liberation Sans", sans-serif'  textLength="9.3" lengthAdjust="spacingAndGlyphs">1.0</text>
<text x="423.20" y="153.95" font-size="7.3" fill="#484848" text-anchor="start" font-weight="normal" font-family='"Liberation Sans", sans-serif'  textLength="9.3" lengthAdjust="spacingAndGlyphs">0.5</text>
<text x="423.20" y="164.20" font-size="7.3" fill="#484848" text-anchor="start" font-weight="normal" font-family='"Liberation Sans", sans-serif'  textLength="9.3" lengthAdjust="spacingAndGlyphs">0.0</text>
<text x="434.50" y="177.00" font-size="8.4" fill="#505050" text-anchor="start" font-weight="normal" font-family='"Liberation Sans", sans-serif'  textLength="9.6" lengthAdjust="spacingAndGlyphs">AB</text>
<text x="444.70" y="174.60" font-size="4.2" fill="#505050" text-anchor="start" font-weight="normal" font-family='"Liberation Sans", sans-serif' >p</text>
<text x="511.30" y="177.00" font-size="8.4" fill="#505050" text-anchor="start" font-weight="normal" font-family='"Liberation Sans", sans-serif'  textLength="4.9" lengthAdjust="spacingAndGlyphs">C</text>
<text x="516.80" y="174.60" font-size="4.2" fill="#505050" text-anchor="start" font-weight="normal" font-family='"Liberation Sans", sans-serif' >c</text>
<text x="545.80" y="177.00" font-size="8.4" fill="#505050" text-anchor="start" font-weight="normal" font-family='"Liberation Sans", sans-serif'  textLength="4.9" lengthAdjust="spacingAndGlyphs">A</text>
<text x="551.30" y="174.60" font-size="4.2" fill="#505050" text-anchor="start" font-weight="normal" font-family='"Liberation Sans", sans-serif' >f</text>
<text x="516.10" y="192.50" font-size="7.6" fill="#3a3a3a" text-anchor="start" font-weight="normal" font-family='"Liberation Serif", serif'  textLength="14" lengthAdjust="spacingAndGlyphs">0.25</text>
<text x="423.20" y="183.50" font-size="7.3" fill="#484848" text-anchor="start" font-weight="normal" font-family='"Liberation Sans", sans-serif'  textLength="9.3" lengthAdjust="spacingAndGlyphs">1.0</text>
<text x="423.20" y="193.75" font-size="7.3" fill="#484848" text-anchor="start" font-weight="normal" font-family='"Liberation Sans", sans-serif'  textLength="9.3" lengthAdjust="spacingAndGlyphs">0.5</text>
<text x="423.20" y="204.00" font-size="7.3" fill="#484848" text-anchor="start" font-weight="normal" font-family='"Liberation Sans", sans-serif'  textLength="9.3" lengthAdjust="spacingAndGlyphs">0.0</text>
<text x="434.50" y="216.80" font-size="8.4" fill="#505050" text-anchor="start" font-weight="normal" font-family='"Liberation Sans", sans-serif'  textLength="4.9" lengthAdjust="spacingAndGlyphs">A</text>
<text x="440.00" y="214.40" font-size="4.2" fill="#505050" text-anchor="start" font-weight="normal" font-family='"Liberation Sans", sans-serif' >p</text>
<text x="511.30" y="216.80" font-size="8.4" fill="#505050" text-anchor="start" font-weight="normal" font-family='"Liberation Sans", sans-serif'  textLength="4.5" lengthAdjust="spacingAndGlyphs">B</text>
<text x="516.40" y="214.40" font-size="4.2" fill="#505050" text-anchor="start" font-weight="normal" font-family='"Liberation Sans", sans-serif' >c</text>
<text x="545.80" y="216.80" font-size="8.4" fill="#505050" text-anchor="start" font-weight="normal" font-family='"Liberation Sans", sans-serif'  textLength="9.9" lengthAdjust="spacingAndGlyphs">AC</text>
<text x="556.30" y="214.40" font-size="4.2" fill="#505050" text-anchor="start" font-weight="normal" font-family='"Liberation Sans", sans-serif' >f</text>
<text x="516.10" y="232.70" font-size="7.6" fill="#3a3a3a" text-anchor="start" font-weight="normal" font-family='"Liberation Serif", serif'  textLength="14" lengthAdjust="spacingAndGlyphs">0.25</text>
<text x="423.20" y="223.20" font-size="7.3" fill="#484848" text-anchor="start" font-weight="normal" font-family='"Liberation Sans", sans-serif'  textLength="9.3" lengthAdjust="spacingAndGlyphs">1.0</text>
<text x="423.20" y="233.45" font-size="7.3" fill="#484848" text-anchor="start" font-weight="normal" font-family='"Liberation Sans", sans-serif'  textLength="9.3" lengthAdjust="spacingAndGlyphs">0.5</text>
<text x="423.20" y="243.70" font-size="7.3" fill="#484848" text-anchor="start" font-weight="normal" font-family='"Liberation Sans", sans-serif'  textLength="9.3" lengthAdjust="spacingAndGlyphs">0.0</text>
<text x="434.50" y="256.60" font-size="8.4" fill="#505050" text-anchor="start" font-weight="normal" font-family='"Liberation Sans", sans-serif'  textLength="14.6" lengthAdjust="spacingAndGlyphs">ABC</text>
<text x="449.70" y="254.20" font-size="4.2" fill="#505050" text-anchor="start" font-weight="normal" font-family='"Liberation Sans", sans-serif' >p</text>
<text x="511.30" y="256.60" font-size="8.4" fill="#505050" text-anchor="start" font-weight="normal" font-family='"Liberation Sans", sans-serif'  textLength="4.9" lengthAdjust="spacingAndGlyphs">A</text>
<text x="516.80" y="254.20" font-size="4.2" fill="#505050" text-anchor="start" font-weight="normal" font-family='"Liberation Sans", sans-serif' >c</text>
<text x="545.80" y="256.60" font-size="8.4" fill="#505050" text-anchor="start" font-weight="normal" font-family='"Liberation Sans", sans-serif'  textLength="4.5" lengthAdjust="spacingAndGlyphs">B</text>
<text x="550.90" y="254.20" font-size="4.2" fill="#505050" text-anchor="start" font-weight="normal" font-family='"Liberation Sans", sans-serif' >f</text>
<text x="516.10" y="272.30" font-size="7.6" fill="#3a3a3a" text-anchor="start" font-weight="normal" font-family='"Liberation Serif", serif'  textLength="14" lengthAdjust="spacingAndGlyphs">0.25</text>
<text x="423.20" y="263.90" font-size="7.3" fill="#484848" text-anchor="start" font-weight="normal" font-family='"Liberation Sans", sans-serif'  textLength="9.3" lengthAdjust="spacingAndGlyphs">1.0</text>
<text x="423.20" y="274.15" font-size="7.3" fill="#484848" text-anchor="start" font-weight="normal" font-family='"Liberation Sans", sans-serif'  textLength="9.3" lengthAdjust="spacingAndGlyphs">0.5</text>
<text x="423.20" y="284.40" font-size="7.3" fill="#484848" text-anchor="start" font-weight="normal" font-family='"Liberation Sans", sans-serif'  textLength="9.3" lengthAdjust="spacingAndGlyphs">0.0</text>
<text transform="translate(442.47,286.60) rotate(-45)" font-size="7.3" fill="#333" text-anchor="end" textLength="11.8" lengthAdjust="spacingAndGlyphs" font-family='"Liberation Sans", sans-serif'>000</text>
<text transform="translate(451.01,286.60) rotate(-45)" font-size="7.3" fill="#333" text-anchor="end" textLength="11.8" lengthAdjust="spacingAndGlyphs" font-family='"Liberation Sans", sans-serif'>100</text>
<text transform="translate(459.54,286.60) rotate(-45)" font-size="7.3" fill="#333" text-anchor="end" textLength="11.8" lengthAdjust="spacingAndGlyphs" font-family='"Liberation Sans", sans-serif'>010</text>
<text transform="translate(468.08,286.60) rotate(-45)" font-size="7.3" fill="#333" text-anchor="end" textLength="11.8" lengthAdjust="spacingAndGlyphs" font-family='"Liberation Sans", sans-serif'>110</text>
<text transform="translate(476.62,286.60) rotate(-45)" font-size="7.3" fill="#333" text-anchor="end" textLength="11.8" lengthAdjust="spacingAndGlyphs" font-family='"Liberation Sans", sans-serif'>001</text>
<text transform="translate(485.16,286.60) rotate(-45)" font-size="7.3" fill="#333" text-anchor="end" textLength="11.8" lengthAdjust="spacingAndGlyphs" font-family='"Liberation Sans", sans-serif'>101</text>
<text transform="translate(493.69,286.60) rotate(-45)" font-size="7.3" fill="#333" text-anchor="end" textLength="11.8" lengthAdjust="spacingAndGlyphs" font-family='"Liberation Sans", sans-serif'>011</text>
<text transform="translate(502.23,286.60) rotate(-45)" font-size="7.3" fill="#333" text-anchor="end" textLength="11.8" lengthAdjust="spacingAndGlyphs" font-family='"Liberation Sans", sans-serif'>111</text>
<text transform="translate(553.23,286.60) rotate(-45)" font-size="7.3" fill="#333" text-anchor="end" textLength="11.8" lengthAdjust="spacingAndGlyphs" font-family='"Liberation Sans", sans-serif'>000</text>
<text transform="translate(561.69,286.60) rotate(-45)" font-size="7.3" fill="#333" text-anchor="end" textLength="11.8" lengthAdjust="spacingAndGlyphs" font-family='"Liberation Sans", sans-serif'>100</text>
<text transform="translate(570.16,286.60) rotate(-45)" font-size="7.3" fill="#333" text-anchor="end" textLength="11.8" lengthAdjust="spacingAndGlyphs" font-family='"Liberation Sans", sans-serif'>010</text>
<text transform="translate(578.62,286.60) rotate(-45)" font-size="7.3" fill="#333" text-anchor="end" textLength="11.8" lengthAdjust="spacingAndGlyphs" font-family='"Liberation Sans", sans-serif'>110</text>
<text transform="translate(587.08,286.60) rotate(-45)" font-size="7.3" fill="#333" text-anchor="end" textLength="11.8" lengthAdjust="spacingAndGlyphs" font-family='"Liberation Sans", sans-serif'>001</text>
<text transform="translate(595.54,286.60) rotate(-45)" font-size="7.3" fill="#333" text-anchor="end" textLength="11.8" lengthAdjust="spacingAndGlyphs" font-family='"Liberation Sans", sans-serif'>101</text>
<text transform="translate(604.01,286.60) rotate(-45)" font-size="7.3" fill="#333" text-anchor="end" textLength="11.8" lengthAdjust="spacingAndGlyphs" font-family='"Liberation Sans", sans-serif'>011</text>
<text transform="translate(612.47,286.60) rotate(-45)" font-size="7.3" fill="#333" text-anchor="end" textLength="11.8" lengthAdjust="spacingAndGlyphs" font-family='"Liberation Sans", sans-serif'>111</text>
<text transform="translate(416.6,169.9) rotate(-90)" font-size="7.6" fill="#444" text-anchor="middle" textLength="68.2" lengthAdjust="spacingAndGlyphs" font-family='"Liberation Sans", sans-serif'>Probability of state</text>
<text x="507.30" y="290.20" font-size="8" fill="#444" text-anchor="start" font-weight="normal" font-family='"Liberation Sans", sans-serif' >φ</text>
<text x="512.30" y="287.20" font-size="4.2" fill="#444" text-anchor="start" font-weight="normal" font-family='"Liberation Sans", sans-serif'  textLength="7.8" lengthAdjust="spacingAndGlyphs">max</text>
<text x="521.80" y="290.20" font-size="8" fill="#444" text-anchor="start" font-weight="normal" font-family='"Liberation Sans", sans-serif'  textLength="7.2" lengthAdjust="spacingAndGlyphs">of</text>
<text x="507.50" y="298.50" font-size="8" fill="#444" text-anchor="start" font-weight="normal" font-family='"Liberation Sans", sans-serif'  textLength="28.6" lengthAdjust="spacingAndGlyphs">concept</text>
<text x="517.40" y="336.70" font-size="8.0" fill="#444" text-anchor="start" font-weight="normal" font-family='"Liberation Sans", sans-serif'  textLength="30.7" lengthAdjust="spacingAndGlyphs">Concept</text>
<text x="517.40" y="352.90" font-size="8.0" fill="#444" text-anchor="start" font-weight="normal" font-family='"Liberation Sans", sans-serif'  textLength="51.8" lengthAdjust="spacingAndGlyphs">Logic gate ON</text>
<text x="517.40" y="368.90" font-size="8.0" fill="#444" text-anchor="start" font-weight="normal" font-family='"Liberation Sans", sans-serif'  textLength="53.7" lengthAdjust="spacingAndGlyphs">Logic gate OFF</text>
<text x="517.40" y="384.70" font-size="8.0" fill="#444" text-anchor="start" font-weight="normal" font-family='"Liberation Sans", sans-serif'  textLength="87.9" lengthAdjust="spacingAndGlyphs">Probability of past states</text>
<text x="517.40" y="400.70" font-size="8.0" fill="#444" text-anchor="start" font-weight="normal" font-family='"Liberation Sans", sans-serif'  textLength="94.8" lengthAdjust="spacingAndGlyphs">Probability of future states</text>
<text x="517.40" y="416.60" font-size="8.0" fill="#444" text-anchor="start" font-weight="normal" font-family='"Liberation Sans", sans-serif'  textLength="85.6" lengthAdjust="spacingAndGlyphs">Boundary of experience</text></g>
</svg>
</body></html>
